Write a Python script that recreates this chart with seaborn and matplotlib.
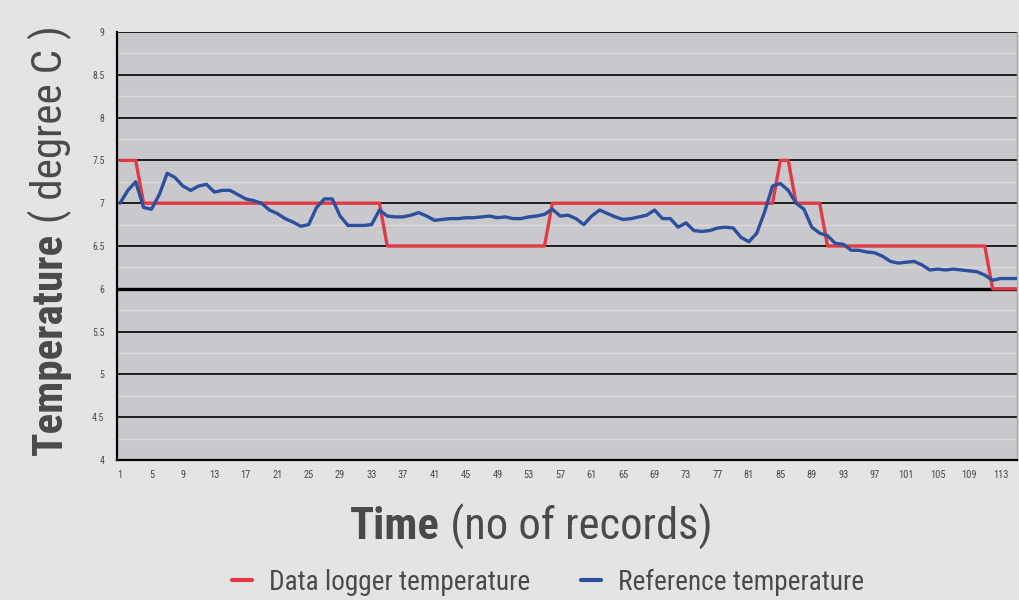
import matplotlib
matplotlib.use("Agg")
import numpy as np
import pandas as pd
import seaborn as sns
import matplotlib.pyplot as plt
from matplotlib.lines import Line2D

# data (one value per record)
records = list(range(1, 116))

logger_temp = [
    7.5, 7.5, 7.5, 7.0, 7.0, 7.0, 7.0, 7.0, 7.0, 7.0,
    7.0, 7.0, 7.0, 7.0, 7.0, 7.0, 7.0, 7.0, 7.0, 7.0,
    7.0, 7.0, 7.0, 7.0, 7.0, 7.0, 7.0, 7.0, 7.0, 7.0,
    7.0, 7.0, 7.0, 7.0, 6.5, 6.5, 6.5, 6.5, 6.5, 6.5,
    6.5, 6.5, 6.5, 6.5, 6.5, 6.5, 6.5, 6.5, 6.5, 6.5,
    6.5, 6.5, 6.5, 6.5, 6.5, 7.0, 7.0, 7.0, 7.0, 7.0,
    7.0, 7.0, 7.0, 7.0, 7.0, 7.0, 7.0, 7.0, 7.0, 7.0,
    7.0, 7.0, 7.0, 7.0, 7.0, 7.0, 7.0, 7.0, 7.0, 7.0,
    7.0, 7.0, 7.0, 7.0, 7.5, 7.5, 7.0, 7.0, 7.0, 7.0,
    6.5, 6.5, 6.5, 6.5, 6.5, 6.5, 6.5, 6.5, 6.5, 6.5,
    6.5, 6.5, 6.5, 6.5, 6.5, 6.5, 6.5, 6.5, 6.5, 6.5,
    6.5, 6.0, 6.0, 6.0, 6.0,
]

reference_temp = [
    7.0, 7.15, 7.25, 6.95, 6.93, 7.1, 7.35, 7.3, 7.2, 7.15,
    7.2, 7.22, 7.13, 7.15, 7.15, 7.1, 7.05, 7.03, 7.0, 6.92,
    6.88, 6.82, 6.78, 6.73, 6.75, 6.95, 7.05, 7.05, 6.85, 6.74,
    6.74, 6.74, 6.75, 6.92, 6.85, 6.84, 6.84, 6.86, 6.89, 6.85,
    6.8, 6.81, 6.82, 6.82, 6.83, 6.83, 6.84, 6.85, 6.83, 6.84,
    6.82, 6.82, 6.84, 6.85, 6.87, 6.93, 6.85, 6.86, 6.82, 6.75,
    6.85, 6.92, 6.88, 6.84, 6.81, 6.82, 6.84, 6.86, 6.92, 6.82,
    6.82, 6.72, 6.77, 6.68, 6.67, 6.68, 6.71, 6.72, 6.71, 6.6,
    6.55, 6.65, 6.9, 7.2, 7.23, 7.15, 7.0, 6.93, 6.72, 6.65,
    6.62, 6.53, 6.52, 6.45, 6.45, 6.43, 6.42, 6.38, 6.32, 6.3,
    6.31, 6.32, 6.28, 6.22, 6.23, 6.22, 6.23, 6.22, 6.21, 6.2,
    6.16, 6.1, 6.12, 6.12, 6.12,
]

x_ticks = list(range(1, 116, 4))
y_ticks = [4, 4.5, 5, 5.5, 6, 6.5, 7, 7.5, 8, 8.5, 9]
y_tick_labels = ["4", "4.5", "5", "5.5", "6", "6.5", "7", "7.5", "8", "8.5", "9"]

series_names = ["Data logger temperature", "Reference temperature"]
colors = {"Data logger temperature": "#e23a44", "Reference temperature": "#2c4f9e"}

df = pd.DataFrame({
    "Record": records * 2,
    "Temperature": logger_temp + reference_temp,
    "Series": [series_names[0]] * len(records) + [series_names[1]] * len(records),
})

sns.set_style("white")
plt.rcParams["font.family"] = ["Roboto Condensed", "DejaVu Sans Condensed",
                               "Liberation Sans Narrow", "Roboto", "DejaVu Sans"]

text_color = "#4a4a4a"
W, H = 1019, 600

fig = plt.figure(figsize=(10.19, 6), dpi=100, facecolor="#e4e4e4")
ax = fig.add_axes([117 / W, 140 / H, 900 / W, 428 / H])
ax.set_facecolor("#c9c9cd")

# faint light minor grid + black major grid
for v in np.arange(4.25, 9, 0.5):
    ax.axhline(v, color="#d9d9dc", lw=1.0, zorder=0)
for v in y_ticks:
    ax.axhline(v, color="black", lw=2.4 if v == 6 else 1.2, zorder=1)

sns.lineplot(data=df, x="Record", y="Temperature", hue="Series",
             palette=colors, linewidth=2.4, ax=ax, legend=False, zorder=3)

ax.set_xlim(0.62, 115.1)
ax.set_ylim(4, 9)
ax.set_xticks(x_ticks)
ax.set_xticklabels([str(t) for t in x_ticks], fontsize=7.5, color=text_color)
ax.set_xticks(records, minor=True)
ax.set_yticks(y_ticks)
ax.set_yticklabels(y_tick_labels, fontsize=7, color=text_color)
ax.tick_params(axis="x", which="both", direction="out", length=3, width=1,
               color="black", pad=4)
ax.tick_params(axis="y", which="major", direction="out", length=3, width=1,
               color="black", pad=6)
ax.set_xlabel("")
ax.set_ylabel("")

for side in ["left", "bottom"]:
    ax.spines[side].set_color("black")
    ax.spines[side].set_linewidth(1.6)
ax.spines["top"].set_visible(False)
ax.spines["right"].set_color("#a8a8a8")
ax.spines["right"].set_linewidth(1.0)

fig.canvas.draw()
r = fig.canvas.get_renderer()


def text_width(s, size, weight="normal"):
    t = fig.text(0, 0, s, fontsize=size, fontweight=weight)
    w = t.get_window_extent(renderer=r).width
    t.remove()
    return w


# y axis title: bold + regular parts, from y=455 up to y=25 (pixels from top)
base = 30
span = text_width("Temperature", base, "bold") + text_width(" ( degree C )", base)
ysize = base * 430 / span
t1 = fig.text(50 / W, (H - 455) / H, "Temperature", rotation=90,
              fontsize=ysize, fontweight="bold", color=text_color,
              ha="center", va="bottom")
bb = t1.get_window_extent(renderer=r)
fig.text(50 / W, bb.y1 / H, " ( degree C )", rotation=90,
         fontsize=ysize, color=text_color, ha="center", va="bottom")

# x axis title: bold + regular parts, spanning x 350..712
span = text_width("Time", base, "bold") + text_width(" (no of records)", base)
xsize = base * 362 / span
t3 = fig.text(350 / W, 73 / H, "Time", fontsize=xsize, fontweight="bold",
              color=text_color, ha="left", va="center")
bb3 = t3.get_window_extent(renderer=r)
fig.text(bb3.x1 / W, 73 / H, " (no of records)", fontsize=xsize,
         color=text_color, ha="left", va="center")

# legend
lsize = base * 262 / text_width(series_names[0], base)
fpx = lsize * 100 / 72
handles = [Line2D([], [], color=colors[n], lw=3) for n in series_names]
fig.legend(handles, series_names, loc="center", bbox_to_anchor=(548 / W, 18 / H),
           ncol=2, frameon=False, fontsize=lsize, handlelength=20 / fpx,
           handletextpad=17 / fpx, columnspacing=50 / fpx, labelcolor=text_color,
           borderpad=0, borderaxespad=0)

fig.savefig("out.png", dpi=100, facecolor=fig.get_facecolor())
